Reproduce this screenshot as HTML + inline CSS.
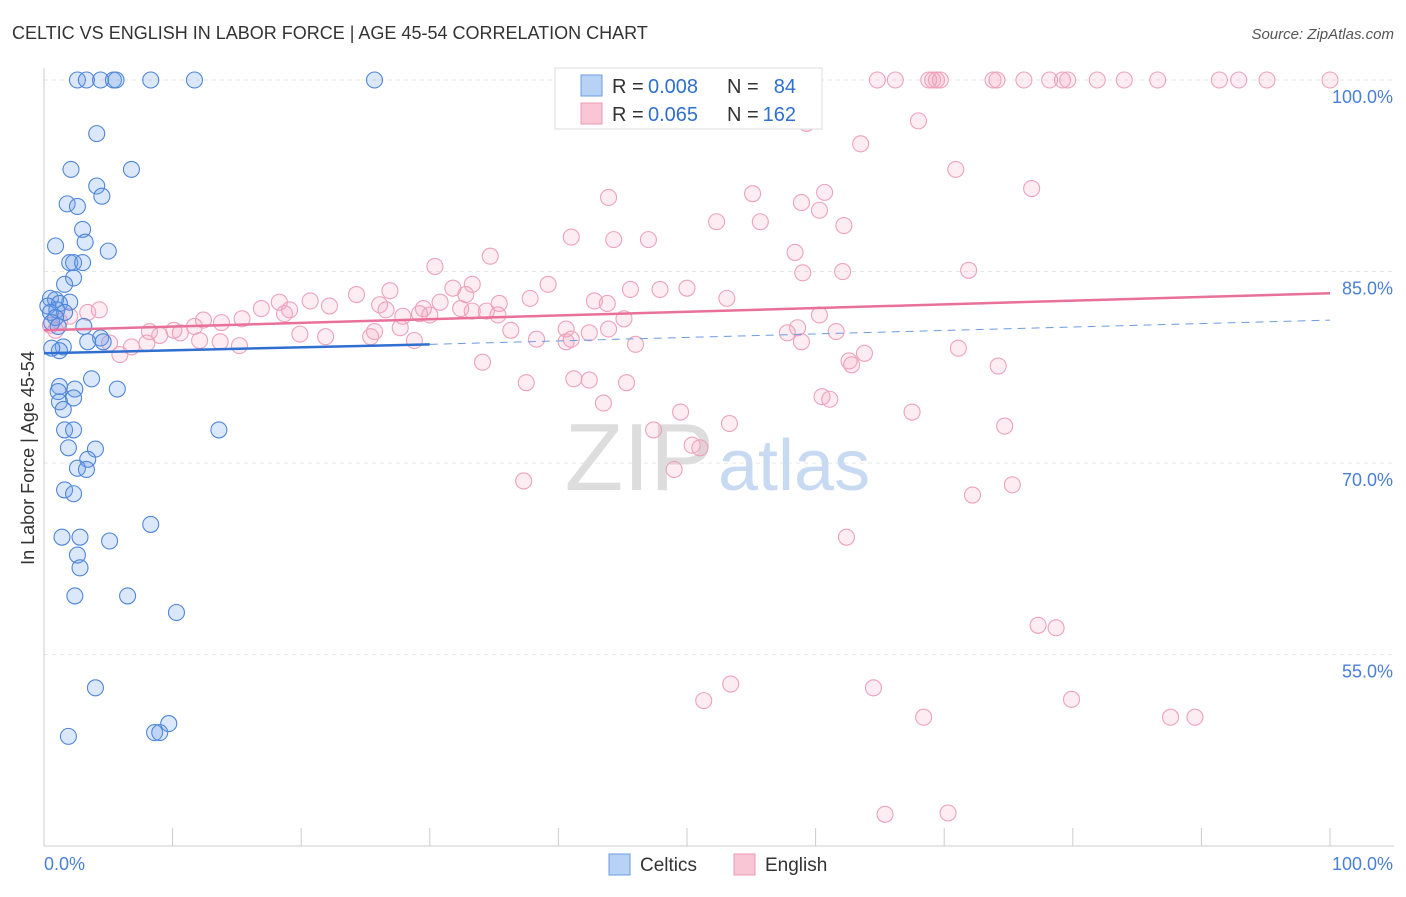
<!DOCTYPE html>
<html><head><meta charset="utf-8"><style>
body{margin:0;background:#fff;font-family:"Liberation Sans",sans-serif;}
svg text{font-family:"Liberation Sans",sans-serif;}
</style></head><body>
<svg id="chart" width="1406" height="892">
<text x="12" y="39" font-size="18" fill="#333">CELTIC VS ENGLISH IN LABOR FORCE | AGE 45-54 CORRELATION CHART</text>
<text x="1394" y="39" font-size="15" fill="#555" text-anchor="end" font-style="italic">Source: ZipAtlas.com</text>
<g id="grid"></g>
<g id="axes"></g>
<text x="714" y="490" font-size="96" fill="#ddd" text-anchor="end" font-family="Liberation Serif">ZIP</text>
<text x="718" y="490" font-size="72" fill="#c8daf2">atlas</text>
<g id="pts"></g>
<g id="lines"></g>
<text x="34" y="458" font-size="18" fill="#333" text-anchor="middle" transform="rotate(-90 34 458)">In Labor Force | Age 45-54</text>
<g>
<rect x="555" y="68" width="267" height="61" fill="#fff" stroke="#ddd"/>
<rect x="581" y="75" width="21" height="21" fill="#b8d2f6" stroke="#6a9ce0"/>
<rect x="581" y="103" width="21" height="21" fill="#f9c6d6" stroke="#ec9ab6"/>
<text x="612" y="93" font-size="20" fill="#333">R =</text>
<text x="648" y="93" font-size="20" fill="#2f6fd0">0.008</text>
<text x="727" y="93" font-size="20" fill="#333">N =</text>
<text x="796" y="93" font-size="20" fill="#2f6fd0" text-anchor="end">84</text>
<text x="612" y="121" font-size="20" fill="#333">R =</text>
<text x="648" y="121" font-size="20" fill="#2f6fd0">0.065</text>
<text x="727" y="121" font-size="20" fill="#333">N =</text>
<text x="796" y="121" font-size="20" fill="#2f6fd0" text-anchor="end">162</text>
</g>
<g>
<rect x="609" y="854" width="21" height="21" fill="#b8d2f6" stroke="#6a9ce0"/>
<text x="640" y="871" font-size="19" fill="#333">Celtics</text>
<rect x="734" y="854" width="21" height="21" fill="#f9c6d6" stroke="#ec9ab6"/>
<text x="765" y="871" font-size="19" fill="#333">English</text>
</g>
</svg>
<script>
const yTicks=[100,85,70,55];
const xTickLabels=["0.0%","100.0%"];
const blueX=[2.6,3.3,4.4,5.4,5.6,8.3,11.7,25.7,4.1,2.1,6.8,4.1,4.5,1.8,2.6,3.0,3.2,0.9,5.0,2.0,2.3,3.0,2.3,1.6,0.5,0.9,2.0,1.2,0.3,1.0,0.5,1.6,0.9,0.6,1.1,3.1,4.4,3.4,4.6,1.5,1.2,0.6,3.7,1.2,1.1,5.7,2.4,2.3,1.2,1.5,1.6,2.3,13.6,1.9,4.0,3.4,2.6,3.3,1.6,2.3,8.3,1.4,2.8,5.1,2.6,2.8,2.4,6.5,10.3,4.0,1.9,8.6,9.0,9.7];
const blueY=[100,100,100,100,100,100,100,100,95.8,93.0,93.0,91.7,90.9,90.3,90.1,88.3,87.3,87.0,86.6,85.7,85.7,85.7,84.5,84.0,82.9,82.8,82.6,82.5,82.3,82.0,81.8,81.8,81.4,81.0,80.7,80.7,79.8,79.5,79.5,79.1,78.8,79.0,76.6,76.0,75.6,75.8,75.8,75.1,74.8,74.2,72.6,72.6,72.6,71.2,71.1,70.3,69.6,69.5,67.9,67.6,65.2,64.2,64.2,63.9,62.8,61.8,59.6,59.6,58.3,52.4,48.6,48.9,48.9,49.6];
const pinkX=[64.8,66.2,68.8,69.1,69.4,69.7,73.8,74.1,76.2,78.2,79.2,79.6,81.9,84.0,86.6,91.4,92.9,95.1,100,59.3,68.0,63.5,70.9,76.8,60.7,43.9,55.1,58.9,60.3,52.3,55.7,62.2,41.0,47.0,44.3,58.4,34.7,30.4,71.9,39.2,33.3,31.8,62.1,59.0,45.6,47.9,50.0,53.1,32.8,26.9,24.3,30.8,42.8,37.8,43.8,35.4,33.3,26.1,29.2,27.9,26.6,29.5,22.2,20.7,19.1,18.3,16.9,15.4,13.8,12.4,11.7,10.1,9.0,8.0,6.8,5.9,5.1,4.3,3.4,2.0,1.2,0.5,0.9,12.1,15.2,13.7,10.6,8.2,18.7,19.9,21.9,25.7,27.7,30.0,32.4,34.4,35.3,36.3,38.3,40.6,41.0,42.4,43.9,45.1,46.0,40.6,61.6,58.9,63.8,62.8,57.8,58.6,71.1,74.2,62.6,34.1,37.5,41.2,42.4,43.5,45.3,49.5,53.3,67.5,61.1,60.5,47.4,50.4,51.0,49.0,37.3,74.7,72.2,75.3,62.4,77.3,78.7,51.3,53.4,64.5,68.4,79.9,87.6,89.5,65.4,70.3,28.8,25.4,60.3];
const pinkY=[100,100,100,100,100,100,100,100,100,100,100,100,100,100,100,100,100,100,100,96.6,96.8,95.0,93.0,91.5,91.2,90.8,91.1,90.4,89.8,88.9,88.9,88.6,87.7,87.5,87.5,86.5,86.2,85.4,85.1,84.0,84.0,83.7,85.0,84.9,83.6,83.6,83.7,82.9,83.2,83.5,83.2,82.6,82.7,82.9,82.5,82.5,81.9,82.4,81.7,81.5,82.0,82.1,82.3,82.7,82.0,82.6,82.1,81.3,81.0,81.2,80.7,80.4,80.0,79.4,79.1,78.5,79.4,82.0,81.8,81.5,81.1,80.8,80.4,79.6,79.2,79.5,80.2,80.3,81.7,80.1,79.9,80.3,80.6,81.6,82.1,81.9,81.6,80.4,79.7,79.5,79.7,80.2,80.5,81.3,79.3,80.5,80.3,79.5,78.6,77.7,80.2,80.6,79.0,77.6,78.0,77.9,76.3,76.6,76.5,74.7,76.3,74.0,73.1,74.0,75.0,75.2,72.6,71.4,71.2,69.5,68.6,72.9,67.5,68.3,64.2,57.3,57.1,51.4,52.7,52.4,50.1,51.5,50.1,50.1,42.5,42.6,79.6,79.9,81.6];
const blueTrend=[0,78.6,30,79.3,100,81.2];
const pinkTrend=[0,80.4,100,83.3];
const NS="http://www.w3.org/2000/svg";
const X0=44,X1=1330,Y100=80,PPY=12.77;
function sx(v){return X0+(X1-X0)*v/100;}
function sy(v){return Y100+(100-v)*PPY;}
function mk(t,a,p){const e=document.createElementNS(NS,t);for(const k in a)e.setAttribute(k,a[k]);p.appendChild(e);return e;}
const grid=document.getElementById('grid'),axes=document.getElementById('axes');
yTicks.forEach(v=>{
 const l=mk('line',{x1:X0,x2:1394,y1:sy(v),y2:sy(v),stroke:'#e6e6e6','stroke-dasharray':'4,4'},grid);
 
 
 const t=mk('text',{x:1393,y:sy(v)+23,'font-size':18,fill:'#4a7fd4','text-anchor':'end'},axes);
 t.textContent=v.toFixed(1)+'%';
 
 
});
mk('line',{x1:X0,x2:X0,y1:68,y2:846,stroke:'#ccc'},axes);
mk('line',{x1:X0,x2:1394,y1:846,y2:846,stroke:'#ccc'},axes);
for(let i=0;i<=10;i++){mk('line',{x1:sx(i*10),x2:sx(i*10),y1:828,y2:846,stroke:'#ccc'},axes);}
let t0=mk('text',{x:44,y:870,'font-size':18,fill:'#4a7fd4'},axes);t0.textContent=xTickLabels[0];


let t1=mk('text',{x:1393,y:870,'font-size':18,fill:'#4a7fd4','text-anchor':'end'},axes);t1.textContent=xTickLabels[1];


const pts=document.getElementById('pts');
pinkX.forEach((x,i)=>{const c=mk('circle',{cx:sx(x),cy:sy(pinkY[i]),r:8,fill:'rgba(244,160,188,0.2)',stroke:'#eda2bb','stroke-width':1.1},pts);
 
 });
blueX.forEach((x,i)=>{const c=mk('circle',{cx:sx(x),cy:sy(blueY[i]),r:8,fill:'rgba(110,160,235,0.25)',stroke:'#4f86d8','stroke-width':1.1},pts);
 
 });
const lines=document.getElementById('lines');
let b1=mk('line',{x1:sx(blueTrend[0]),y1:sy(blueTrend[1]),x2:sx(blueTrend[2]),y2:sy(blueTrend[3]),stroke:'#2f6fd0','stroke-width':2.5},lines);


let b2=mk('line',{x1:sx(blueTrend[2]),y1:sy(blueTrend[3]),x2:sx(blueTrend[4]),y2:sy(blueTrend[5]),stroke:'#6a9ce0','stroke-width':1,'stroke-dasharray':'8,6'},lines);


let p1=mk('line',{x1:sx(pinkTrend[0]),y1:sy(pinkTrend[1]),x2:sx(pinkTrend[2]),y2:sy(pinkTrend[3]),stroke:'#e8709a','stroke-width':2.5},lines);


</script>
</body></html>
